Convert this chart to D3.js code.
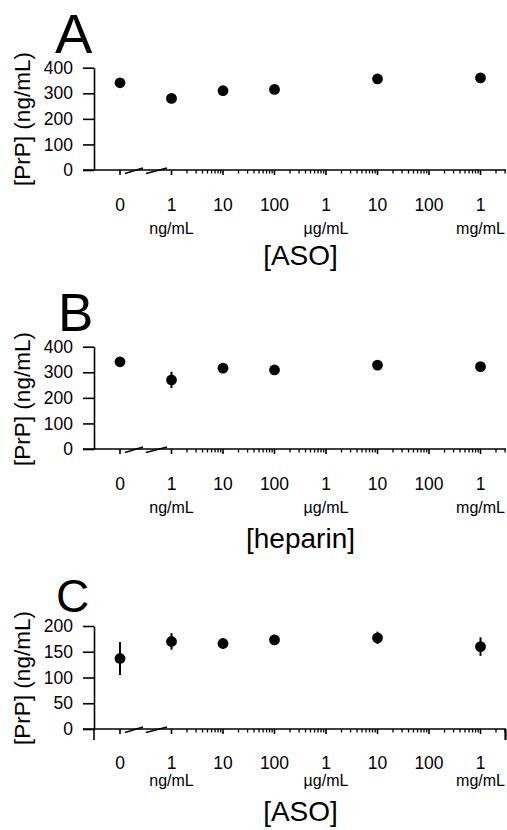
<!DOCTYPE html>
<html>
<head>
<meta charset="utf-8">
<script src="https://cdn.jsdelivr.net/npm/d3@7"></script>
<style>
  html, body { margin: 0; padding: 0; background: #fff; }
  svg { display: block; }
  text { font-family: "Liberation Sans", Arial, Helvetica, sans-serif; fill: #000; }
</style>
</head>
<body>
<svg id="chart" width="507" height="830"></svg>
<script>
// ---------- data ----------
const concentrations = [0, 1, 10, 100, 10000, 1000000];        // ng/mL (0 = no treatment)
const xTickValues = [1, 10, 100, 1000, 10000, 100000, 1000000]; // ng/mL
const xTickLabels = ["1", "10", "100", "1", "10", "100", "1"];
const zeroLabel = "0";
const unitLabels = ["ng/mL", "µg/mL", "mg/mL"];
const unitPositions = [1, 1000, 1000000];

const panelLetters = ["A", "B", "C"];
const xTitles = ["[ASO]", "[heparin]", "[ASO]"];
const yTitle = "[PrP] (ng/mL)";

const valuesA = [341, 280, 310, 315, 356, 360];
const errorsA = [4, 5, 4, 4, 5, 5];
const valuesB = [341, 270, 316, 309, 328, 322];
const errorsB = [5, 32, 5, 5, 5, 5];
const valuesC = [137, 170, 166, 173, 177, 160];
const errorsC = [32, 16, 10, 10, 12, 18];

const yTicksAB = [0, 100, 200, 300, 400];
const yTicksC = [0, 50, 100, 150, 200];

// ---------- layout ----------
const layouts = [
  { values: valuesA, errors: errorsA, yTicks: yTicksAB, top: 67.7, bottom: 170, letterY: 53, letterX: 55, letterSize: 56,
    yTitleC: 119, tickDy: 35, unitDy: 58, unitSize: 16, titleDy: 85, extendY: false },
  { values: valuesB, errors: errorsB, yTicks: yTicksAB, top: 346.7, bottom: 449, letterY: 331, letterX: 58, letterSize: 53,
    yTitleC: 399, tickDy: 35, unitDy: 58, unitSize: 16, titleDy: 89, extendY: false },
  { values: valuesC, errors: errorsC, yTicks: yTicksC, top: 626, bottom: 729, letterY: 612, letterX: 56, letterSize: 46,
    yTitleC: 678, tickDy: 33.5, unitDy: 51, unitSize: 16, titleDy: 82, extendY: true }
];

const svg = d3.select("#chart");
const axisX = 94;
const zeroX = 120;
const x = d3.scaleLog().domain([1, 1000000]).range([171.5, 480.5]);
const xPos = c => c === 0 ? zeroX : x(c);
const sw = 1.6;

layouts.forEach((L, i) => {
  const g = svg.append("g");
  const yMax = d3.max(L.yTicks);
  const y = d3.scaleLinear().domain([0, yMax]).range([L.bottom, L.top]);

  // panel letter
  g.append("text").attr("x", L.letterX).attr("y", L.letterY)
    .style("font-size", L.letterSize + "px").text(panelLetters[i]);

  // y title
  g.append("text")
    .attr("transform", `translate(29.5,${L.yTitleC}) rotate(-90)`)
    .attr("text-anchor", "middle")
    .style("font-size", "22.5px")
    .text(yTitle);

  // y axis
  const yAxis = d3.axisLeft(y).tickValues(L.yTicks).tickSize(11).tickSizeOuter(0).tickPadding(10);
  const ya = g.append("g").attr("transform", `translate(${axisX},0)`).call(yAxis);
  ya.selectAll("path, line").attr("stroke", "#000").attr("stroke-width", sw);
  ya.selectAll("text").style("font-size", "17.5px").style("font-family", '"Liberation Sans", Arial, sans-serif');
  if (L.extendY) {
    g.append("line").attr("x1", axisX).attr("x2", axisX).attr("y1", L.bottom).attr("y2", L.bottom + 11)
      .attr("stroke", "#000").attr("stroke-width", sw);
  }

  // x axis line
  g.append("line").attr("x1", 83).attr("x2", 506).attr("y1", L.bottom).attr("y2", L.bottom)
    .attr("stroke", "#000").attr("stroke-width", sw);

  // zero tick
  g.append("line").attr("x1", zeroX).attr("x2", zeroX).attr("y1", L.bottom).attr("y2", L.bottom + 5)
    .attr("stroke", "#000").attr("stroke-width", sw);

  // major & minor ticks
  const minors = [];
  xTickValues.forEach(d => { for (let k = 2; k <= 9; k++) { if (d * k <= 3000000) minors.push(d * k); } });
  g.selectAll(".minor").data(minors.filter(v => x(v) <= 506)).enter().append("line")
    .attr("x1", d => x(d)).attr("x2", d => x(d)).attr("y1", L.bottom).attr("y2", L.bottom + 3.5)
    .attr("stroke", "#000").attr("stroke-width", 1.3);
  g.selectAll(".major").data(xTickValues).enter().append("line")
    .attr("x1", d => x(d)).attr("x2", d => x(d)).attr("y1", L.bottom).attr("y2", L.bottom + 5)
    .attr("stroke", "#000").attr("stroke-width", sw);
  if (L.extendY) {
    g.append("line").attr("x1", 505.5).attr("x2", 505.5).attr("y1", L.bottom).attr("y2", L.bottom + 11)
      .attr("stroke", "#000").attr("stroke-width", 2.2);
  }

  // axis break marks
  [[125, 143], [146, 167]].forEach(([a, b]) => {
    g.append("line").attr("x1", a).attr("y1", L.bottom + 3.5).attr("x2", b).attr("y2", L.bottom - 2)
      .attr("stroke", "#000").attr("stroke-width", 1.5);
  });

  // x tick labels
  g.append("text").attr("x", zeroX).attr("y", L.bottom + L.tickDy).attr("dy", "0.35em")
    .attr("text-anchor", "middle").style("font-size", "17.5px").text(zeroLabel);
  g.selectAll(".xl").data(xTickValues).enter().append("text")
    .attr("x", d => x(d)).attr("y", L.bottom + L.tickDy).attr("dy", "0.35em")
    .attr("text-anchor", "middle").style("font-size", "17.5px")
    .text((d, j) => xTickLabels[j]);
  g.selectAll(".ul").data(unitPositions).enter().append("text")
    .attr("x", d => x(d)).attr("y", L.bottom + L.unitDy).attr("dy", "0.35em")
    .attr("text-anchor", "middle").style("font-size", L.unitSize + "px")
    .text((d, j) => unitLabels[j]);

  // x title
  g.append("text").attr("x", 300.5).attr("y", L.bottom + L.titleDy).attr("dy", "0.35em")
    .attr("text-anchor", "middle").style("font-size", "28px").text(xTitles[i]);

  // error bars
  g.selectAll(".err").data(concentrations).enter().append("line")
    .attr("x1", d => xPos(d)).attr("x2", d => xPos(d))
    .attr("y1", (d, j) => y(L.values[j] + L.errors[j]))
    .attr("y2", (d, j) => y(L.values[j] - L.errors[j]))
    .attr("stroke", "#000").attr("stroke-width", 2);

  // points
  g.selectAll(".pt").data(concentrations).enter().append("circle")
    .attr("cx", d => xPos(d)).attr("cy", (d, j) => y(L.values[j]))
    .attr("r", 5.4).attr("fill", "#000");
});
</script>
</body>
</html>
